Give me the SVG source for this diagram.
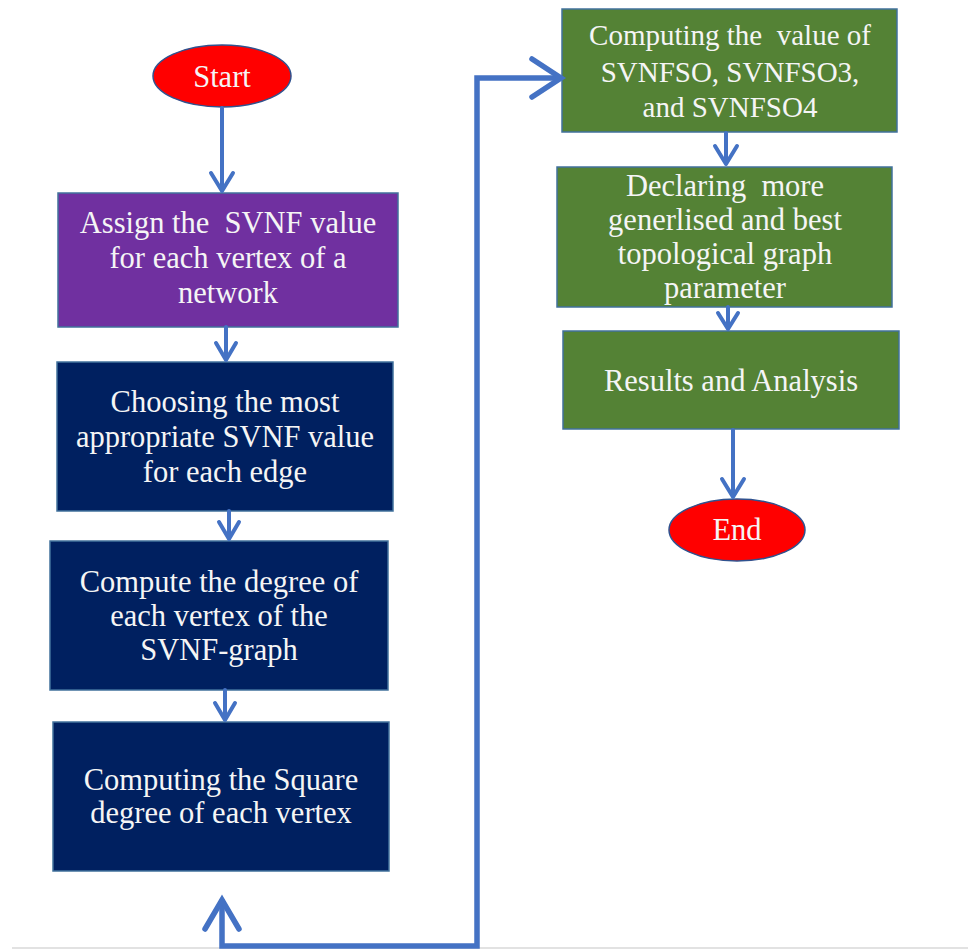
<svg xmlns="http://www.w3.org/2000/svg" width="968" height="950" viewBox="0 0 968 950" xml:space="preserve">
<style>
.bg{fill:#ffffff}
.box{stroke:#41719C;stroke-width:1.5}
.purple{fill:#7030A0}
.navy{fill:#002060}
.green{fill:#548235}
.oval{fill:#FF0000;stroke:#2F528F;stroke-width:1.5}
.t{font-family:"Liberation Serif","Times New Roman",serif;font-size:30.5px;fill:#F5F5F5;text-anchor:middle;white-space:pre}
.t2{font-size:29px}
.c{fill:none;stroke:#4472C4;stroke-width:4;stroke-linecap:round;stroke-linejoin:round}
.cb{fill:none;stroke:#4472C4;stroke-width:5.5;stroke-linecap:round;stroke-linejoin:miter}
.page{stroke:#D9D9D9;stroke-width:1.5}
</style>
<rect class="bg" x="0" y="0" width="968" height="950"/>
<line class="page" x1="12" y1="948" x2="968" y2="948"/>
<g id="start">
<ellipse class="oval" cx="222" cy="76" rx="69" ry="31"/>
<text class="t" x="222" y="87">Start</text>
</g>
<g id="assign">
<rect class="box purple" x="58" y="193" width="340" height="134"/>
<text class="t" x="228" y="233">Assign the  SVNF value</text>
<text class="t" x="228" y="268">for each vertex of a</text>
<text class="t" x="228" y="303">network</text>
</g>
<g id="choosing">
<rect class="box navy" x="57" y="362" width="336" height="149"/>
<text class="t" x="225" y="412">Choosing the most</text>
<text class="t" x="225" y="447">appropriate SVNF value</text>
<text class="t" x="225" y="482">for each edge</text>
</g>
<g id="degree">
<rect class="box navy" x="50" y="541" width="338" height="149"/>
<text class="t" x="219" y="592">Compute the degree of</text>
<text class="t" x="219" y="626">each vertex of the</text>
<text class="t" x="219" y="660">SVNF-graph</text>
</g>
<g id="square">
<rect class="box navy" x="53" y="722" width="336" height="149"/>
<text class="t" x="221" y="790">Computing the Square</text>
<text class="t" x="221" y="823">degree of each vertex</text>
</g>
<g id="svnfso">
<rect class="box green" x="562" y="9" width="335" height="123"/>
<text class="t t2" x="730" y="45">Computing the  value of</text>
<text class="t t2" x="730" y="82">SVNFSO, SVNFSO3,</text>
<text class="t t2" x="730" y="117">and SVNFSO4</text>
</g>
<g id="declaring">
<rect class="box green" x="557" y="167" width="335" height="140"/>
<text class="t" x="725" y="196">Declaring  more</text>
<text class="t" x="725" y="230">generlised and best</text>
<text class="t" x="725" y="264">topological graph</text>
<text class="t" x="725" y="298">parameter</text>
</g>
<g id="results">
<rect class="box green" x="563" y="331" width="336" height="98"/>
<text class="t" x="731" y="391">Results and Analysis</text>
</g>
<g id="end">
<ellipse class="oval" cx="737" cy="530" rx="68" ry="31"/>
<text class="t" x="737" y="540">End</text>
</g>
<g id="connectors">
<path class="c" d="M222 108 V191 M211 173 L222 191 L233 173"/>
<path class="c" d="M226 327 V360 M216 343 L226 360 L236 343"/>
<path class="c" d="M229 511 V539 M219 522 L229 539 L239 522"/>
<path class="c" d="M225 690 V720 M215 703 L225 720 L235 703"/>
<path class="c" d="M726 133 V164 M715 146 L726 164 L737 146"/>
<path class="c" d="M728 307 V329 M718 313 L728 329 L738 313"/>
<path class="c" d="M733 430 V497 M722 479 L733 497 L744 479"/>
<path class="cb" d="M222 901 V946 H477 V78 H559"/>
<path class="cb" stroke-linecap="round" stroke-linejoin="round" d="M205 929 L222 900 L239 929"/>
<path class="cb" stroke-linecap="round" stroke-linejoin="round" d="M532 59 L561 78 L532 97"/>
</g>
</svg>
